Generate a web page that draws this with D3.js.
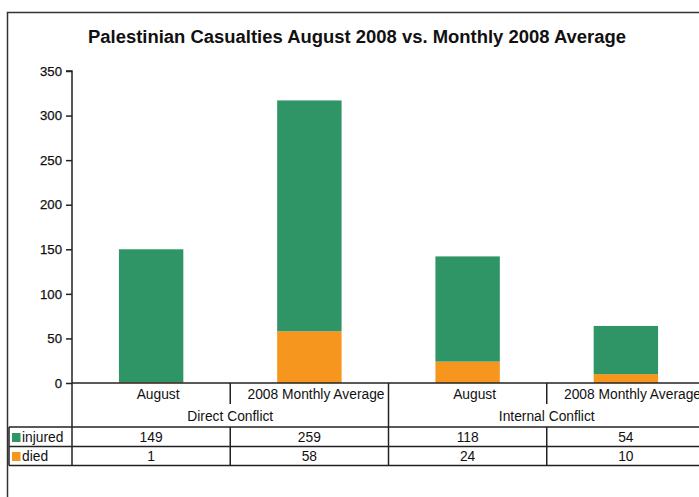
<!DOCTYPE html>
<html>
<head>
<meta charset="utf-8">
<script src="https://cdn.jsdelivr.net/npm/d3@7"></script>
<style>
  html, body { margin: 0; padding: 0; background: #fff; }
  svg { display: block; }
  text { font-family: "Liberation Sans", Arial, sans-serif; fill: #111; }
</style>
</head>
<body>
<svg id="chart" width="699" height="497"></svg>
<script>
const title = "Palestinian Casualties August 2008 vs. Monthly 2008 Average";
const groups = ["Direct Conflict", "Internal Conflict"];
const subCategories = ["August", "2008 Monthly Average"];
const seriesNames = ["injured", "died"];
const injured = [149, 259, 118, 54];
const died = [1, 58, 24, 10];
const yTicks = [0, 50, 100, 150, 200, 250, 300, 350];
const colors = { injured: "#2f9466", died: "#f6961f" };

(function () {
const svg = d3.select("#chart");
const plotLeft = 72, plotRight = 705, plotTop = 71, plotBottom = 383;
const lineColor = "#222";
const fs = 13.8;

const cats = [];
groups.forEach(g => subCategories.forEach(s => cats.push(g + "|" + s)));
const rows = cats.map((c, i) => ({ key: c, group: c.split("|")[0], sub: c.split("|")[1], injured: injured[i], died: died[i] }));

const x = d3.scaleBand().domain(cats).range([plotLeft, plotRight]).paddingInner(0.593).paddingOuter(0.2965);
const step = x.step();
const colLeft = k => x(k) - x.paddingInner() * step / 2;
const y = d3.scaleLinear().domain([0, 350]).range([plotBottom, plotTop]);

// outer frame
svg.append("rect").attr("x", 7.5).attr("y", 12.5).attr("width", 720).attr("height", 520)
  .attr("fill", "none").attr("stroke", "#333").attr("stroke-width", 1.5);

// title
svg.append("text").attr("x", 357).attr("y", 43).attr("text-anchor", "middle")
  .attr("font-weight", "bold").attr("font-size", 17.5).attr("textLength", 538)
  .attr("lengthAdjust", "spacingAndGlyphs").text(title);

// stacked bars
const stacked = d3.stack().keys(["died", "injured"])(rows);
svg.append("g").selectAll("g").data(stacked).join("g")
  .attr("fill", d => colors[d.key])
  .selectAll("rect").data(d => d).join("rect")
  .attr("x", d => x(d.data.key))
  .attr("width", x.bandwidth())
  .attr("y", d => y(d[1]))
  .attr("height", d => y(d[0]) - y(d[1]));

// y axis
const yAxis = d3.axisLeft(y).tickValues(yTicks).tickSize(6).tickPadding(4);
const ya = svg.append("g").attr("transform", `translate(${plotLeft},0)`).call(yAxis);
ya.select(".domain").attr("stroke", lineColor).attr("stroke-width", 1.5).attr("d", `M-6,${plotTop}H0V${plotBottom}`);
ya.selectAll(".tick line").attr("stroke", lineColor).attr("stroke-width", 1.5);
ya.selectAll(".tick text").attr("font-size", 13.2).attr("font-family", "Liberation Sans, Arial, sans-serif")
  .attr("fill", "#111").attr("stroke", "#111").attr("stroke-width", 0.25);

const g = svg.append("g").attr("stroke", lineColor).attr("stroke-width", 1.5);
g.append("line").attr("x1", plotLeft).attr("x2", plotRight).attr("y1", plotBottom).attr("y2", plotBottom);

const subRowBottom = 404, headBottom = 427, row1Bottom = 446.5, row2Bottom = 465.5, tableLeft = 9;
[headBottom, row1Bottom, row2Bottom].forEach(yy =>
  g.append("line").attr("x1", tableLeft).attr("x2", plotRight).attr("y1", yy).attr("y2", yy));
g.append("line").attr("x1", tableLeft).attr("x2", tableLeft).attr("y1", headBottom).attr("y2", row2Bottom);
g.append("line").attr("x1", plotLeft).attr("x2", plotLeft).attr("y1", plotBottom).attr("y2", row2Bottom);
cats.forEach((c, i) => {
  if (i === 0) return;
  const xx = colLeft(c);
  if (i % subCategories.length === 0) {
    g.append("line").attr("x1", xx).attr("x2", xx).attr("y1", plotBottom).attr("y2", row2Bottom);
  } else {
    g.append("line").attr("x1", xx).attr("x2", xx).attr("y1", plotBottom).attr("y2", subRowBottom);
    g.append("line").attr("x1", xx).attr("x2", xx).attr("y1", headBottom).attr("y2", row2Bottom);
  }
});

const cx = k => x(k) + x.bandwidth() / 2;
// sub-category labels: slightly right of centre, kept inside the cell
svg.append("g").selectAll("text").data(rows).join("text")
  .attr("y", 399).attr("text-anchor", "middle").attr("font-size", fs)
  .text(d => d.sub)
  .each(function (d) {
    const w = this.getComputedTextLength();
    const cellRight = colLeft(d.key) + step;
    const c = Math.min(cx(d.key) + 7, cellRight - 4 - w / 2);
    d3.select(this).attr("x", c);
  });
svg.append("g").selectAll("text").data(groups).join("text")
  .attr("x", gname => {
    const ks = cats.filter(c => c.startsWith(gname + "|"));
    return (colLeft(ks[0]) + colLeft(ks[ks.length - 1]) + step) / 2;
  })
  .attr("y", 421).attr("text-anchor", "middle").attr("font-size", fs).text(d => d);

const rowY = { injured: 441.5, died: 460.5 };
seriesNames.forEach(s => {
  svg.append("g").selectAll("text").data(rows).join("text")
    .attr("x", d => cx(d.key)).attr("y", rowY[s]).attr("text-anchor", "middle").attr("font-size", fs)
    .text(d => d[s]);
  svg.append("rect").attr("x", 12).attr("y", rowY[s] - 8.5).attr("width", 8.5).attr("height", 9)
    .attr("fill", colors[s]);
  svg.append("text").attr("x", 22).attr("y", rowY[s]).attr("font-size", fs).text(s);
});
})();
</script>
</body>
</html>
